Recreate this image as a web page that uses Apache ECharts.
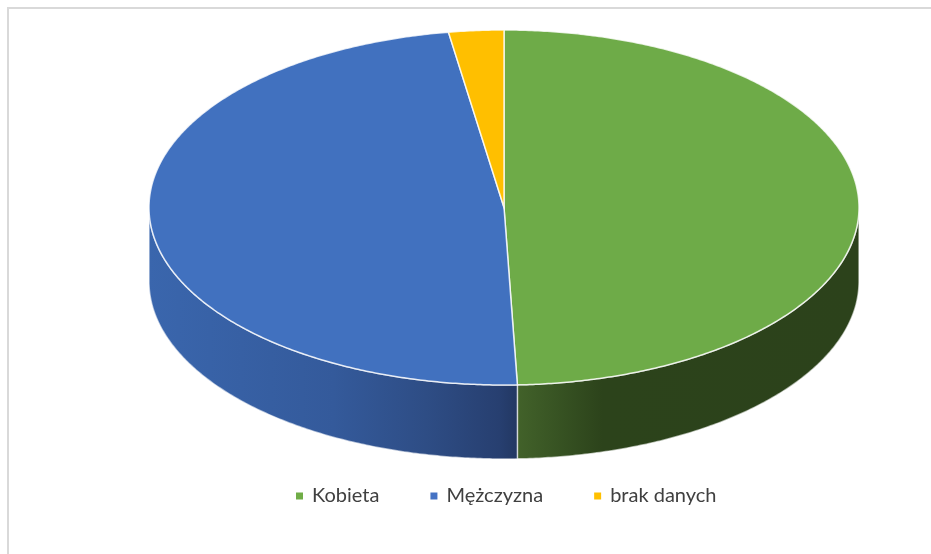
<!DOCTYPE html>
<html>
<head>
<meta charset="utf-8">
<style>
  html, body { margin: 0; padding: 0; background: #fff; }
  #chart { width: 931px; height: 554px; }
</style>
<script src="https://cdn.jsdelivr.net/npm/echarts@6/dist/echarts.min.js"></script>
</head>
<body>
<div id="chart"></div>
<script>
const categories = ['Kobieta', 'Mężczyzna', 'brak danych'];
const values = [49.4, 48.1, 2.5];
const legendColors = ['#70ad47', '#4472c4', '#ffc000'];
const topColors = ['#6eab48', '#4171bf', '#ffbf00'];

// wall shading from left to right for each slice, [offset, colour]
const wallShades = [
  [[0, '#42622a'], [0.25, '#2c431b'], [1, '#2c421b']],
  [[0, '#3a66ad'], [0.5, '#345a9b'], [0.75, '#2e4d85'], [0.95, '#273f70'], [1, '#223762']],
  [[0, '#7f6000'], [1, '#7f6000']]
];

const cx = 504;
const cy = 207.5;
const rx = 355;
const ry = 177.5;
const depth = 74;
const total = values.reduce((a, b) => a + b, 0);

// angle in degrees, clockwise from 12 o'clock
const rimPoint = (deg, dy) => {
  const a = deg * Math.PI / 180;
  return [cx + rx * Math.sin(a), cy + dy - ry * Math.cos(a)];
};

const arcPoints = (from, to, dy) => {
  const pts = [];
  const steps = Math.max(2, Math.ceil(Math.abs(to - from) * 2));
  for (let i = 0; i <= steps; i++) {
    pts.push(rimPoint(from + (to - from) * i / steps, dy));
  }
  return pts;
};

const renderSlice = (idx) => () => {
  const before = values.slice(0, idx).reduce((a, b) => a + b, 0);
  const start = before / total * 360;
  const end = (before + values[idx]) / total * 360;
  const children = [];

  // only the front half of the rim shows a wall
  const wallFrom = Math.max(start, 90);
  const wallTo = Math.min(end, 270);
  if (wallTo > wallFrom) {
    children.push({
      type: 'polygon',
      shape: { points: arcPoints(wallFrom, wallTo, 0).concat(arcPoints(wallTo, wallFrom, depth)) },
      style: {
        fill: new echarts.graphic.LinearGradient(0, 0, 1, 0, wallShades[idx].map(([offset, color]) => ({ offset, color }))),
        stroke: 'rgba(255,255,255,0.6)',
        lineWidth: 1.5
      }
    });
  }

  children.push({
    type: 'polygon',
    z2: 10,
    shape: { points: [[cx, cy]].concat(arcPoints(start, end, 0)) },
    style: { fill: topColors[idx], stroke: 'rgba(255,255,255,0.8)', lineWidth: 1.5 }
  });

  return { type: 'group', children };
};

const chart = echarts.init(document.getElementById('chart'), null, { renderer: 'canvas' });

chart.setOption({
  animation: false,
  backgroundColor: '#fff',
  legend: {
    data: categories,
    left: 296,
    top: 486,
    padding: 0,
    icon: 'rect',
    itemWidth: 7,
    itemHeight: 7,
    itemGap: 51,
    selectedMode: false,
    textStyle: {
      fontFamily: 'Lato',
      fontSize: 20,
      color: '#404040',
      padding: [2, 0, 0, 4]
    }
  },
  graphic: [
    { type: 'rect', shape: { x: 7, y: 7, width: 924, height: 2 }, style: { fill: '#d9d9d9' } },
    { type: 'rect', shape: { x: 7, y: 7, width: 2, height: 547 }, style: { fill: '#d9d9d9' } }
  ],
  series: categories.map((name, idx) => ({
    name,
    type: 'custom',
    coordinateSystem: 'none',
    silent: true,
    z: idx === 2 ? 3 : 2,
    itemStyle: { color: legendColors[idx] },
    data: [values[idx]],
    renderItem: renderSlice(idx)
  }))
});
</script>
</body>
</html>
